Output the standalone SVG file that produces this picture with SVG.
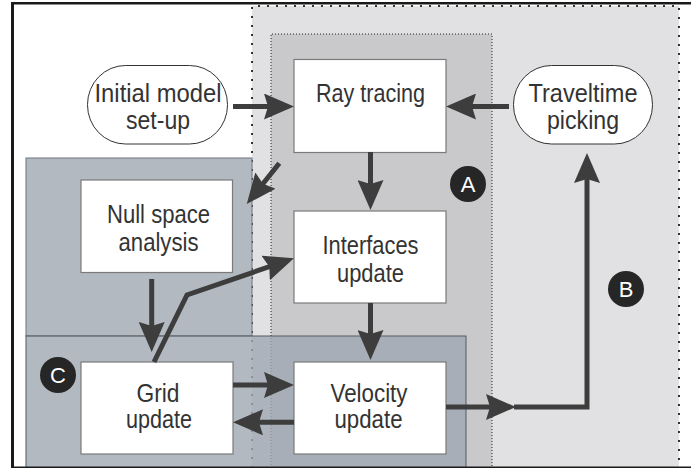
<svg xmlns="http://www.w3.org/2000/svg" width="691" height="468" viewBox="0 0 691 468">
  <defs>
    <style>
      .txt { font-family: "Liberation Sans", Arial, sans-serif; font-size: 25px; fill: #333; text-anchor: middle; }
      .lbl { font-family: "Liberation Sans", Arial, sans-serif; font-size: 22px; fill: #fff; text-anchor: middle; }
      .box { fill: #fff; stroke: #7a7a7a; stroke-width: 1.2; }
      .stad { fill: #fff; stroke: #333; stroke-width: 1; }
      .con { fill: none; stroke: #3d3d3d; stroke-width: 5; stroke-linejoin: miter; }
      .arr { marker-end: url(#ah); }
      .circ { fill: #262626; }
    </style>
    <marker id="ah" markerUnits="userSpaceOnUse" markerWidth="30" markerHeight="26" refX="20" refY="13" orient="auto" viewBox="0 0 30 26">
      <path d="M0,0 L30,13 L0,26 L4,13 z" fill="#3d3d3d"/>
    </marker>
  </defs>

  <rect x="0" y="0" width="691" height="468" fill="#fff"/>

  <!-- Regions -->
  <g id="region-B">
    <rect x="252" y="6" width="427" height="462" fill="#e1e1e3"/>
    <path d="M252,468 V6 H679 V468" fill="none" stroke="#333" stroke-width="2" stroke-dasharray="2 7"/>
  </g>
  <g id="region-A">
    <rect x="271" y="34" width="221" height="434" fill="#c9c9cc"/>
    <path d="M271,468 V34 H492 V468" fill="none" stroke="#222" stroke-width="1" stroke-dasharray="1 2"/>
  </g>
  <g id="region-C">
    <rect x="26" y="158" width="226" height="178" fill="rgb(160,168,178)" fill-opacity="0.8" stroke="#6f757c" stroke-width="1"/>
    <rect x="26" y="336" width="440" height="134" fill="rgb(160,168,178)" fill-opacity="0.8" stroke="#555a60" stroke-width="1"/>
  </g>

  <!-- Frame -->
  <g id="frame" fill="#1a1a1a">
    <rect x="11" y="2" width="680" height="2.5"/>
    <rect x="11" y="2" width="3" height="466"/>
    <rect x="11" y="466.5" width="680" height="1.5"/>
  </g>

  <!-- Nodes -->
  <g id="initial-model">
    <rect class="stad" x="87.5" y="65.5" width="140" height="78.5" rx="38" ry="39"/>
    <text class="txt" x="158" y="101.7" textLength="127" lengthAdjust="spacingAndGlyphs">Initial model</text>
    <text class="txt" x="158" y="128.5" textLength="64" lengthAdjust="spacingAndGlyphs">set-up</text>
  </g>
  <g id="ray-tracing">
    <rect class="box" x="294" y="59.5" width="152" height="93"/>
    <text class="txt" x="370.5" y="101.7" textLength="109" lengthAdjust="spacingAndGlyphs">Ray tracing</text>
  </g>
  <g id="traveltime-picking">
    <rect class="stad" x="513.5" y="65.5" width="139" height="78.5" rx="38" ry="39"/>
    <text class="txt" x="583" y="101.7" textLength="109" lengthAdjust="spacingAndGlyphs">Traveltime</text>
    <text class="txt" x="583" y="128.5" textLength="72" lengthAdjust="spacingAndGlyphs">picking</text>
  </g>
  <g id="null-space-analysis">
    <rect class="box" x="81" y="180" width="151.5" height="92.5"/>
    <text class="txt" x="158.5" y="223.3" textLength="103" lengthAdjust="spacingAndGlyphs">Null space</text>
    <text class="txt" x="158.5" y="250.7" textLength="80" lengthAdjust="spacingAndGlyphs">analysis</text>
  </g>
  <g id="interfaces-update">
    <rect class="box" x="294" y="211" width="152" height="92"/>
    <text class="txt" x="370.5" y="253.7" textLength="96" lengthAdjust="spacingAndGlyphs">Interfaces</text>
    <text class="txt" x="370.5" y="281.7" textLength="67" lengthAdjust="spacingAndGlyphs">update</text>
  </g>
  <g id="grid-update">
    <rect class="box" x="81" y="362" width="152" height="92"/>
    <text class="txt" x="158" y="401.7" textLength="43" lengthAdjust="spacingAndGlyphs">Grid</text>
    <text class="txt" x="159" y="428.3" textLength="66" lengthAdjust="spacingAndGlyphs">update</text>
  </g>
  <g id="velocity-update">
    <rect class="box" x="294" y="362" width="152" height="92"/>
    <text class="txt" x="369" y="401.7" textLength="77" lengthAdjust="spacingAndGlyphs">Velocity</text>
    <text class="txt" x="368.5" y="428.3" textLength="68" lengthAdjust="spacingAndGlyphs">update</text>
  </g>

  <!-- Region labels -->
  <g id="label-A">
    <circle class="circ" cx="468" cy="184" r="18"/>
    <text class="lbl" x="468" y="192">A</text>
  </g>
  <g id="label-B">
    <circle class="circ" cx="626" cy="289" r="18"/>
    <text class="lbl" x="626" y="297">B</text>
  </g>
  <g id="label-C">
    <circle class="circ" cx="58" cy="375" r="18"/>
    <text class="lbl" x="58" y="383">C</text>
  </g>

  <!-- Connectors -->
  <g id="connectors">
    <path class="con arr" d="M233,106.5 H284"/>
    <path class="con arr" d="M509,106.5 H456"/>
    <path class="con arr" d="M370.5,152 V200"/>
    <path class="con arr" d="M279.3,163.3 L253,196.2"/>
    <path class="con arr" d="M151.7,279 V342"/>
    <path class="con arr" d="M154,362 L187,295 L284.5,261.5"/>
    <path class="con arr" d="M370.5,303 V350"/>
    <path class="con arr" d="M233,385 H284"/>
    <path class="con arr" d="M294,422.3 H243"/>
    <path class="con arr" d="M446,407 H506"/>
    <path class="con arr" d="M514,407 H587 V163"/>
  </g>
</svg>
